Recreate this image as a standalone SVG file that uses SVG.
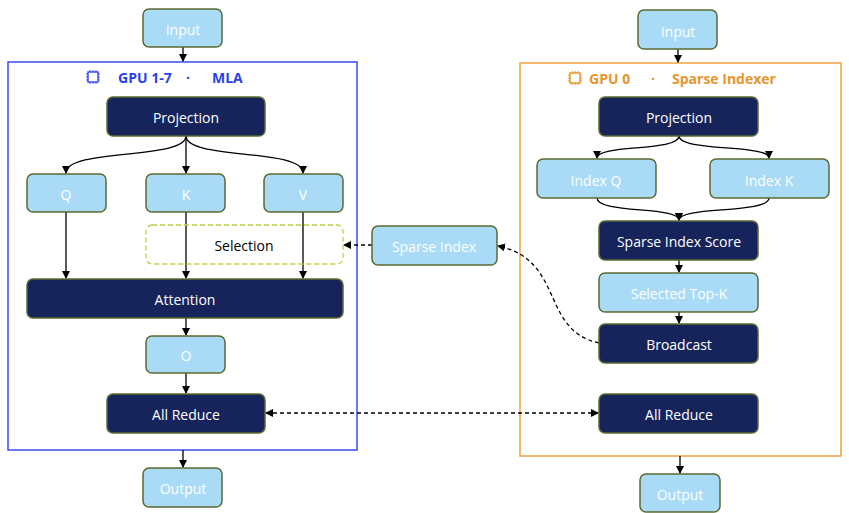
<svg xmlns="http://www.w3.org/2000/svg" width="849" height="513" viewBox="0 0 849 513">
<style>
.l{fill:#a9dbf7;stroke:#5b6a2f;stroke-width:1.5}
.d{fill:#17245c;stroke:#5b6a2f;stroke-width:1.5}
text{font-family:"Open Sans","Liberation Sans",sans-serif;font-size:14px;fill:#fff;text-anchor:middle;dominant-baseline:central}
.c{fill:none;stroke:#000;stroke-width:1.3;marker-end:url(#a)}
.dash{fill:none;stroke:#000;stroke-width:1.3;stroke-dasharray:4,3}
</style>
<defs>
<marker id="a" markerWidth="8" markerHeight="8" refX="7" refY="4" orient="auto" markerUnits="userSpaceOnUse"><path d="M0,0L8,4L0,8z" fill="#000"/></marker>
<marker id="s" markerWidth="8" markerHeight="8" refX="1" refY="4" orient="auto" markerUnits="userSpaceOnUse"><path d="M8,0L0,4L8,8z" fill="#000"/></marker>
<g id="chip"><rect x="-5" y="-5" width="10" height="10" fill="none" stroke-width="1.5"/><path d="M-3,-7v2M0,-7v2M3,-7v2M-3,5v2M0,5v2M3,5v2M-7,-3h2M-7,0h2M-7,3h2M5,-3h2M5,0h2M5,3h2" stroke-width="1"/></g>
</defs>
<g id="frames">
<rect x="8" y="62" width="349" height="388" fill="none" stroke="#3b4ef0" stroke-width="1.5"/>
<rect x="520" y="63" width="321" height="393" fill="none" stroke="#f0a040" stroke-width="1.5"/>
<use href="#chip" x="93" y="77" stroke="#3b4ef0"/>
<text x="118" y="77" style="fill:#2a3ff0;font-weight:bold;text-anchor:start">GPU 1-7</text>
<text x="188" y="77" style="fill:#2a3ff0;font-weight:bold">·</text>
<text x="212" y="77" style="fill:#2a3ff0;font-weight:bold;text-anchor:start">MLA</text>
<use href="#chip" x="575" y="78" stroke="#e8952e"/>
<text x="589" y="78" style="fill:#e8952e;font-weight:bold;text-anchor:start">GPU 0</text>
<text x="653" y="78" style="fill:#e8952e;font-weight:bold">·</text>
<text x="672" y="78" style="fill:#e8952e;font-weight:bold;text-anchor:start">Sparse Indexer</text>
</g>
<g id="connectors">
<path class="c" d="M183,47V61"/>
<path class="c" d="M186,136C186,160 66,148 66,173"/>
<path class="c" d="M186,136V173"/>
<path class="c" d="M186,136C186,160 303,148 303,173"/>
<path class="c" d="M66,212V278"/>
<path class="c" d="M186,212V278"/>
<path class="c" d="M303,212V278"/>
<path class="c" d="M186,318V335"/>
<path class="c" d="M186,373V393"/>
<path class="c" d="M183,450V467"/>
<path class="c" d="M678,49V62"/>
<path class="c" d="M679,136C679,152 597,144 597,158"/>
<path class="c" d="M679,136C679,152 769,144 769,158"/>
<path class="c" d="M597,198C597,214 679,206 679,220"/>
<path class="c" d="M769,198C769,214 679,206 679,220"/>
<path class="c" d="M679,260V272"/>
<path class="c" d="M679,312V323"/>
<path class="c" d="M680,456V473"/>
<path class="dash" d="M599,343C540,330 565,260 498,246" marker-end="url(#a)"/>
<path class="dash" d="M372,245H344" marker-end="url(#a)"/>
<path class="dash" d="M266,413H598" marker-start="url(#s)" marker-end="url(#a)"/>
</g>
<g id="input-l"><rect class="l" x="143" y="9" width="79" height="38" rx="6"/><text x="183" y="29">Input</text></g>
<g id="proj-l"><rect class="d" x="107" y="97" width="158" height="39" rx="6"/><text x="186" y="117">Projection</text></g>
<g id="q"><rect class="l" x="27" y="174" width="79" height="38" rx="6"/><text x="66" y="194">Q</text></g>
<g id="k"><rect class="l" x="146" y="174" width="79" height="38" rx="6"/><text x="186" y="194">K</text></g>
<g id="v"><rect class="l" x="264" y="174" width="79" height="38" rx="6"/><text x="303" y="194">V</text></g>
<g id="selection"><rect x="146" y="225" width="197" height="39" rx="6" fill="none" stroke="#b8d44a" stroke-width="1.3" stroke-dasharray="5,3"/><text x="244" y="245" style="fill:#000">Selection</text></g>
<g id="attention"><rect class="d" x="27" y="279" width="316" height="39" rx="6"/><text x="185" y="299">Attention</text></g>
<g id="o"><rect class="l" x="146" y="336" width="79" height="37" rx="6"/><text x="186" y="355">O</text></g>
<g id="allreduce-l"><rect class="d" x="107" y="394" width="158" height="39" rx="6"/><text x="186" y="414">All Reduce</text></g>
<g id="output-l"><rect class="l" x="143" y="468" width="79" height="39" rx="6"/><text x="183" y="488">Output</text></g>
<g id="sparse-index"><rect class="l" x="372" y="226" width="125" height="39" rx="6"/><text x="434" y="246">Sparse Index</text></g>
<g id="input-r"><rect class="l" x="638" y="10" width="79" height="39" rx="6"/><text x="678" y="31">Input</text></g>
<g id="proj-r"><rect class="d" x="599" y="97" width="159" height="39" rx="6"/><text x="679" y="117">Projection</text></g>
<g id="index-q"><rect class="l" x="537" y="159" width="119" height="39" rx="6"/><text x="596" y="180">Index Q</text></g>
<g id="index-k"><rect class="l" x="710" y="159" width="119" height="39" rx="6"/><text x="769" y="180">Index K</text></g>
<g id="score"><rect class="d" x="599" y="221" width="159" height="39" rx="6"/><text x="679" y="241">Sparse Index Score</text></g>
<g id="topk"><rect class="l" x="599" y="273" width="159" height="39" rx="6"/><text x="679" y="293">Selected Top-K</text></g>
<g id="broadcast"><rect class="d" x="599" y="324" width="159" height="39" rx="6"/><text x="679" y="344">Broadcast</text></g>
<g id="allreduce-r"><rect class="d" x="599" y="394" width="159" height="39" rx="6"/><text x="679" y="414">All Reduce</text></g>
<g id="output-r"><rect class="l" x="640" y="474" width="80" height="38" rx="6"/><text x="680" y="494">Output</text></g>
</svg>
